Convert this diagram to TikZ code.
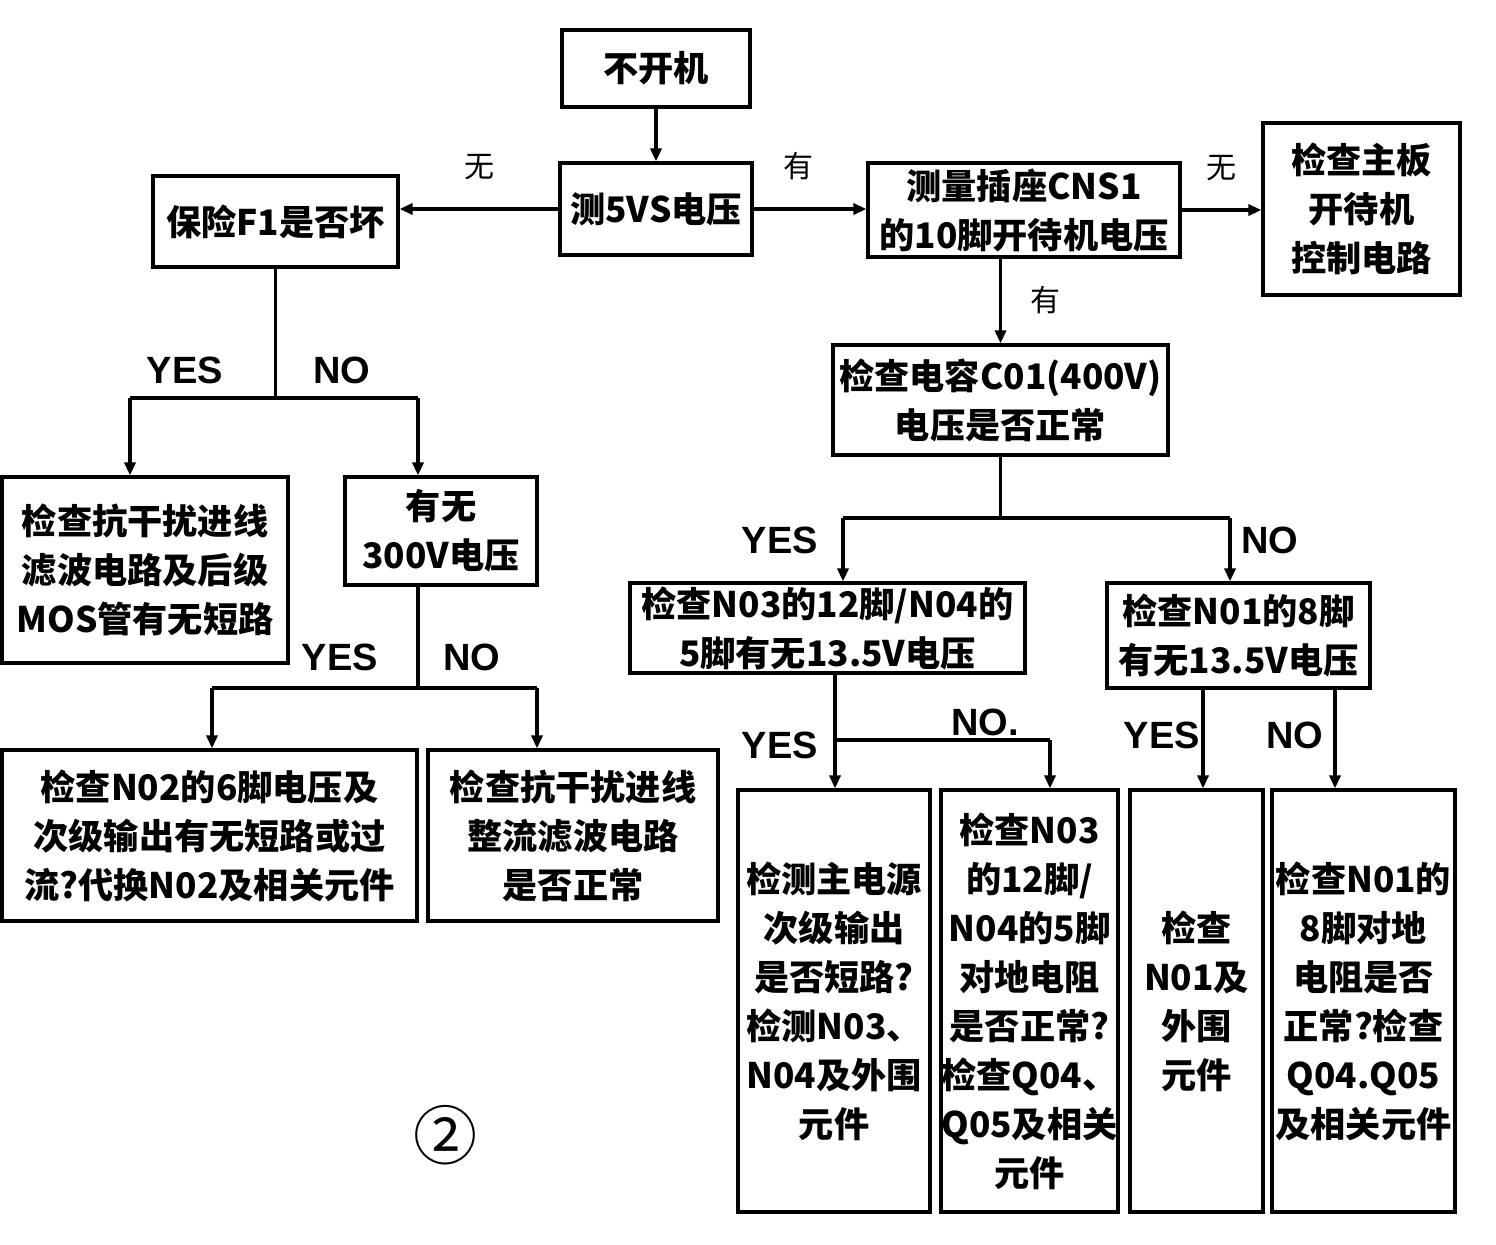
\documentclass[tikz,border=0pt]{standalone}
\usepackage{fontspec}
\setmainfont{Noto Sans CJK SC}
\newfontfamily\lat{Liberation Sans}
\usetikzlibrary{arrows.meta}
\tikzset{
  box/.style={draw, line width=1.6pt, align=center, inner sep=0pt,
    font=\bfseries\fontsize{17.6}{24.5}\selectfont},
  arr/.style={line width=1.6pt, -{Triangle[length=6.5pt,width=5.5pt]}},
  ln/.style={line width=1.6pt},
  yn/.style={font=\lat\bfseries\fontsize{19}{19}\selectfont, inner sep=0pt},
  cl/.style={font=\fontsize{15}{15}\selectfont, inner sep=0pt},
}
\newcommand\bx[6]{\node[box, minimum width={(#4-#2)*0.5pt}, minimum height={(#5-#3)*0.5pt}] (#1) at ({(#2+#4)/2},{(#3+#5)/2}) {#6};}
\begin{document}
\begin{tikzpicture}[x=0.5pt,y=-0.5pt]
\useasboundingbox (0,0) rectangle (1496,1244);
\bx{n1}{562}{30}{750}{107}{不开机}
\bx{n2}{560}{163}{752}{255}{测5VS电压}
\bx{n3}{153}{176}{398}{267}{保险F1是否坏}
\bx{n4}{868}{163}{1180}{257}{测量插座CNS1\\的10脚开待机电压}
\bx{n5}{1263}{123}{1460}{295}{检查主板\\开待机\\控制电路}
\bx{n6}{833}{345}{1168}{455}{检查电容C01(400V)\\电压是否正常}
\bx{n7}{2}{477}{288}{663}{检查抗干扰进线\\滤波电路及后级\\MOS管有无短路}
\bx{n8}{345}{477}{537}{585}{有无\\300V电压}
\bx{n9}{630}{583}{1025}{673}{检查N03的12脚/N04的\\5脚有无13.5V电压}
\bx{n10}{1107}{583}{1370}{688}{检查N01的8脚\\有无13.5V电压}
\bx{n11}{2}{750}{417}{921}{检查N02的6脚电压及\\次级输出有无短路或过\\流?代换N02及相关元件}
\bx{n12}{428}{750}{718}{921}{检查抗干扰进线\\整流滤波电路\\是否正常}
\bx{n13}{738}{790}{930}{1212}{检测主电源\\次级输出\\是否短路?\\检测N03、\\N04及外围\\元件}
\bx{n14}{941}{790}{1118}{1212}{检查N03\\的12脚/\\N04的5脚\\对地电阻\\是否正常?\\检查Q04、\\Q05及相关\\元件}
\bx{n15}{1130}{790}{1263}{1212}{检查\\N01及\\外围\\元件}
\bx{n16}{1272}{790}{1455}{1212}{检查N01的\\8脚对地\\电阻是否\\正常?检查\\Q04.Q05\\及相关元件}

% top connectors
\draw[arr] (n1) -- (n2);
\draw[arr] (n2.west) -- (n2.west -| n3.east) node[cl, pos=0.5, above=14pt] {无};
\draw[arr] (n2.east) -- (n2.east -| n4.west) node[cl, pos=0.4, above=14pt] {有};
\draw[arr] (n4.east) -- (n4.east -| n5.west) node[cl, pos=0.5, above=14pt] {无};
\coordinate (c4) at (1000.5,257);
\draw[arr] (c4) -- (c4 |- n6.north) node[cl, pos=0.5, right=14pt] {有};

% F1 branch
\coordinate (j1l) at (130,398);
\coordinate (j1r) at (418,398);
\coordinate (j1) at (n3.south |- j1l);
\draw[ln] (n3.south) -- (j1);
\draw[ln] (j1l) -- (j1r);
\draw[arr] (j1l) -- (j1l |- n7.north);
\draw[arr] (j1r) -- (j1r |- n8.north);
\node[yn] at (185,370) {YES};
\node[yn] at (342,370) {NO};

% 300V branch
\coordinate (j2l) at (212,688);
\coordinate (j2r) at (537,688);
\coordinate (j2) at (418,688);
\draw[ln] (j1r |- n8.south) -- (j2);
\draw[ln] (j2l) -- (j2r);
\draw[arr] (j2l) -- (j2l |- n11.north);
\draw[arr] (j2r) -- (j2r |- n12.north);
\node[yn] at (340,657) {YES};
\node[yn] at (472,657) {NO};

% C01 branch
\coordinate (j3l) at (843,518);
\coordinate (j3r) at (1230,518);
\coordinate (j3) at (n6.south |- j3l);
\draw[ln] (n6.south) -- (j3);
\draw[ln] (j3l) -- (j3r);
\draw[arr] (j3l) -- (j3l |- n9.north);
\draw[arr] (j3r) -- (j3r |- n10.north);
\node[yn] at (780,540) {YES};
\node[yn] at (1270,540) {NO};

% N03 branch
\coordinate (j4t) at (835,673);
\coordinate (j4) at (835,740);
\coordinate (j4r) at (1050,740);
\draw[arr] (j4t) -- (j4t |- n13.north);
\draw[ln] (j4) -- (j4r);
\draw[arr] (j4r) -- (j4r |- n14.north);
\node[yn] at (780,745) {YES};
\node[yn] at (985,722) {NO.};

% N01 branch
\coordinate (j5l) at (1203,688);
\coordinate (j5r) at (1335,688);
\draw[arr] (j5l) -- (j5l |- n15.north);
\draw[arr] (j5r) -- (j5r |- n16.north);
\node[yn] at (1162,735) {YES};
\node[yn] at (1295,735) {NO};

\node[inner sep=0pt, font=\fontsize{32}{32}\selectfont] (fig) at (445,1135) {②};
\end{tikzpicture}
\end{document}
